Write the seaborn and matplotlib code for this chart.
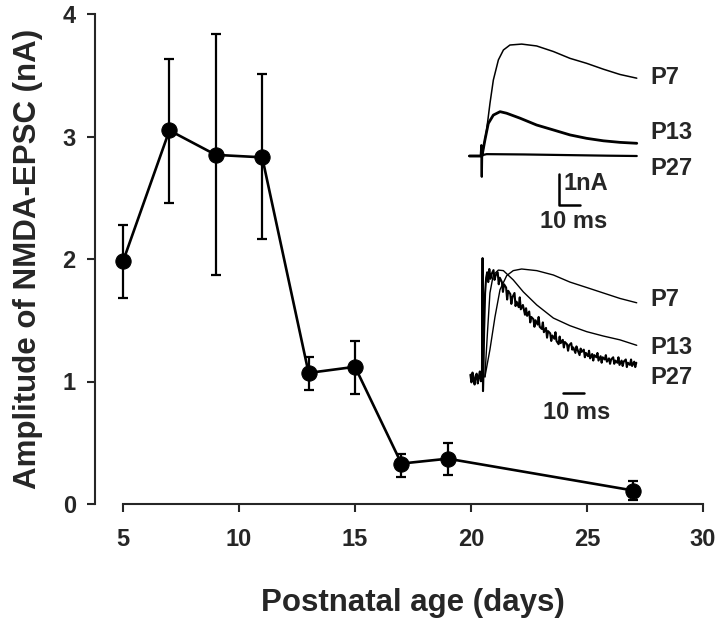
import numpy as np
import pandas as pd
import seaborn as sns
import matplotlib.pyplot as plt

# ---------------------------------------------------------------------------
# datos principales: amplitud del NMDA-EPSC vs edad postnatal
dias = [5, 7, 9, 11, 13, 15, 17, 19, 27]
amplitud = [1.98, 3.05, 2.85, 2.83, 1.07, 1.12, 0.33, 0.37, 0.11]
err_alto = [2.28, 3.63, 3.84, 3.51, 1.20, 1.33, 0.41, 0.50, 0.19]
err_bajo = [1.68, 2.46, 1.87, 2.16, 0.93, 0.90, 0.22, 0.24, 0.03]

# trazos del inserto superior (ms, nA)
t_p7 = [-6, 0, 2.2, 3.8, 5.4, 7.8, 10.2, 13.3, 18.9, 26.0, 34.0, 41.9, 49.8, 57.8, 65.7, 73.7]
nA_p7 = [0, 0, 0.84, 1.70, 2.45, 3.10, 3.42, 3.58, 3.61, 3.55, 3.37, 3.15, 2.99, 2.80, 2.63, 2.51]
t_p13 = [-6, 0, 1.4, 3.0, 5.4, 8.6, 11.7, 18.1, 26.0, 34.0, 41.9, 49.8, 57.8, 65.7, 73.7]
nA_p13 = [0, 0, 0.52, 1.05, 1.32, 1.43, 1.38, 1.22, 1.00, 0.84, 0.68, 0.57, 0.49, 0.44, 0.41]
t_p27 = [-6, -0.6, -0.3, -0.1, 0.1, 0.3, 2.2, 20, 40, 60, 73.7]
nA_p27 = [0, 0, 0.35, -0.67, 0.30, 0.03, 0.06, 0.05, 0.03, 0.01, 0.0]

# trazos normalizados del inserto inferior
tn_p7 = [0.9, 3.3, 5.7, 8.1, 11.3, 14.4, 18.4, 25.6, 33.5, 41.4, 49.4, 57.3, 65.2, 73.2]
n_p7 = [0.01, 0.26, 0.56, 0.81, 0.94, 0.985, 1.0, 0.985, 0.945, 0.88, 0.83, 0.78, 0.73, 0.69]
tn_p13 = [0.9, 2.1, 3.3, 4.9, 7.3, 9.7, 14.4, 19.2, 25.6, 33.5, 41.4, 49.4, 57.3, 65.2, 73.2]
n_p13 = [0.01, 0.41, 0.78, 0.945, 0.99, 0.985, 0.90, 0.79, 0.67, 0.55, 0.48, 0.425, 0.385, 0.35, 0.30]
tn_p27 = [-6, -5.5, -5, -4.5, -4, -3.5, -3, -2.5, -2, -1.5, -1, -0.5,
          -0.2, 0, 0.2,
          0.5, 1, 1.5, 2, 2.5, 3, 3.5, 4,
          5, 5.5, 6, 7, 7.5, 8, 9, 9.5, 10,
          11, 11.5, 12, 13, 13.5, 14, 15, 15.5, 16,
          17, 17.5, 18, 19, 20, 20.5, 21, 22, 22.5,
          23, 24, 24.5, 25, 26, 26.5, 27, 28, 28.5,
          29, 30, 30.5, 31, 32, 32.5, 33, 34, 34.5,
          35, 36, 36.5, 37, 38, 38.5, 39, 40, 40.5,
          41, 42, 42.5, 43, 44, 44.5, 45, 46, 46.5,
          47, 48, 48.5, 49, 50, 50.5, 51, 52, 52.5,
          53, 54, 54.5, 55, 56, 56.5, 57, 58, 58.5,
          59, 60, 60.5, 61, 62, 62.5, 63, 64, 64.5,
          65, 66, 66.5, 67, 68, 68.5, 69, 70, 70.5,
          71, 72, 72.5, 73]
n_p27 = [0.03, -0.04, 0.05, -0.01, -0.06, 0.02, 0.04, -0.05, 0.01, 0.06, -0.03, 0.02,
         1.10, -0.12, 0.02,
         0.40, 0.78, 0.92, 0.97, 0.88, 1.00, 0.91, 0.95,
         0.99, 0.90, 0.94, 0.97, 0.86, 0.92, 0.88, 0.79, 0.86,
         0.83, 0.72, 0.80, 0.77, 0.68, 0.74, 0.78, 0.66, 0.70,
         0.65, 0.74, 0.63, 0.67, 0.58, 0.64, 0.57, 0.61, 0.51,
         0.56, 0.54, 0.47, 0.53, 0.49, 0.56, 0.47, 0.45, 0.51,
         0.42, 0.46, 0.37, 0.43, 0.41, 0.34, 0.39, 0.36, 0.42,
         0.34, 0.31, 0.38, 0.32, 0.35, 0.28, 0.33, 0.31, 0.25,
         0.30, 0.32, 0.26, 0.28, 0.23, 0.29, 0.26, 0.21, 0.27,
         0.24, 0.26, 0.19, 0.23, 0.20, 0.25, 0.18, 0.22, 0.16,
         0.21, 0.19, 0.23, 0.16, 0.20, 0.14, 0.19, 0.17, 0.21,
         0.15, 0.18, 0.13, 0.17, 0.19, 0.13, 0.16, 0.14, 0.19,
         0.12, 0.16, 0.11, 0.15, 0.17, 0.10, 0.14, 0.12, 0.17,
         0.11, 0.15, 0.10, 0.14]

# ---------------------------------------------------------------------------
sns.set_style("ticks")
plt.rcParams['font.family'] = ['Liberation Sans', 'DejaVu Sans']
plt.rcParams['font.weight'] = 'bold'

W, H = 720, 623
fig = plt.figure(figsize=(W / 100, H / 100), dpi=100)
ax = fig.add_axes([123 / W, 1 - 504 / H, (703 - 123) / W, (504 - 14) / H])

datos = pd.DataFrame({'dias': dias, 'amp': amplitud})
amp = np.array(amplitud)
yerr = [amp - np.array(err_bajo), np.array(err_alto) - amp]

ax.errorbar(dias, amplitud, yerr=yerr, fmt='none', ecolor='black',
            elinewidth=1.6, capsize=3.5, capthick=1.6, clip_on=False, zorder=2)
sns.lineplot(data=datos, x='dias', y='amp', color='black', linewidth=1.9,
             marker='o', markersize=11, markeredgecolor='black', ax=ax,
             clip_on=False, zorder=3)

ax.set_xlim(5, 30)
ax.set_ylim(0, 4)
ax.set_xticks([5, 10, 15, 20, 25, 30])
ax.set_yticks([0, 1, 2, 3, 4])
sns.despine(ax=ax)
ax.spines['left'].set_position(('outward', 20))
for s in ['left', 'bottom']:
    ax.spines[s].set_linewidth(1.5)
ax.tick_params(axis='both', direction='out', length=6, width=1.5, labelsize=17)
ax.tick_params(axis='y', pad=8)
ax.tick_params(axis='x', pad=11)
ax.set_xlabel('Postnatal age (days)', fontsize=22.5, fontweight='bold', labelpad=27)
ax.set_ylabel('Amplitude of NMDA-EPSC (nA)', fontsize=22.5, fontweight='bold', labelpad=14)

# ---------------------------------------------------------------------------
# inserto superior: 2.1 px/ms, 31 px/nA, artefacto en x=482, linea base y=156
ins1 = fig.add_axes([465 / W, 1 - 240 / H, (720 - 465) / W, (240 - 30) / H])
ins1.set_xlim(-(482 - 465) / 2.1, (720 - 482) / 2.1)
ins1.set_ylim(-(240 - 156) / 31, (156 - 30) / 31)
ins1.axis('off')
sns.lineplot(x=t_p7, y=nA_p7, color='black', linewidth=1.1, ax=ins1, sort=False)
sns.lineplot(x=t_p13, y=nA_p13, color='black', linewidth=2.0, ax=ins1, sort=False)
sns.lineplot(x=t_p27, y=nA_p27, color='black', linewidth=1.6, ax=ins1, sort=False)
ins1.plot([36.7, 36.7, 46.7], [-0.58, -1.58, -1.58], color='black', linewidth=1.8)
txt = dict(fontsize=17, fontweight='bold', va='center', ha='left')
ins1.text(80, 2.52, 'P7', **txt)
ins1.text(80, 0.76, 'P13', **txt)
ins1.text(80, -0.4, 'P27', **txt)
ins1.text(38.6, -0.88, '1nA', **txt)
ins1.text(43.5, -2.12, '10 ms', fontsize=17, fontweight='bold', va='center', ha='center')

# inserto inferior: normalizado, 109 px por unidad, artefacto en x=483, base y=378
ins2 = fig.add_axes([465 / W, 1 - 430 / H, (720 - 465) / W, (430 - 245) / H])
ins2.set_xlim(-(483 - 465) / 2.1, (720 - 483) / 2.1)
ins2.set_ylim((378 - 430) / 109, (378 - 245) / 109)
ins2.axis('off')
sns.lineplot(x=tn_p7, y=n_p7, color='black', linewidth=1.0, ax=ins2, sort=False)
sns.lineplot(x=tn_p13, y=n_p13, color='black', linewidth=1.0, ax=ins2, sort=False)
sns.lineplot(x=tn_p27, y=n_p27, color='black', linewidth=1.5, ax=ins2, sort=False)
ins2.plot([38.1, 48.1], [-0.138, -0.138], color='black', linewidth=1.8)
ins2.text(79.5, 0.72, 'P7', **txt)
ins2.text(79.5, 0.28, 'P13', **txt)
ins2.text(79.5, 0.0, 'P27', **txt)
ins2.text(44.8, -0.32, '10 ms', fontsize=17, fontweight='bold', va='center', ha='center')

fig.savefig('out.png', dpi=100)
